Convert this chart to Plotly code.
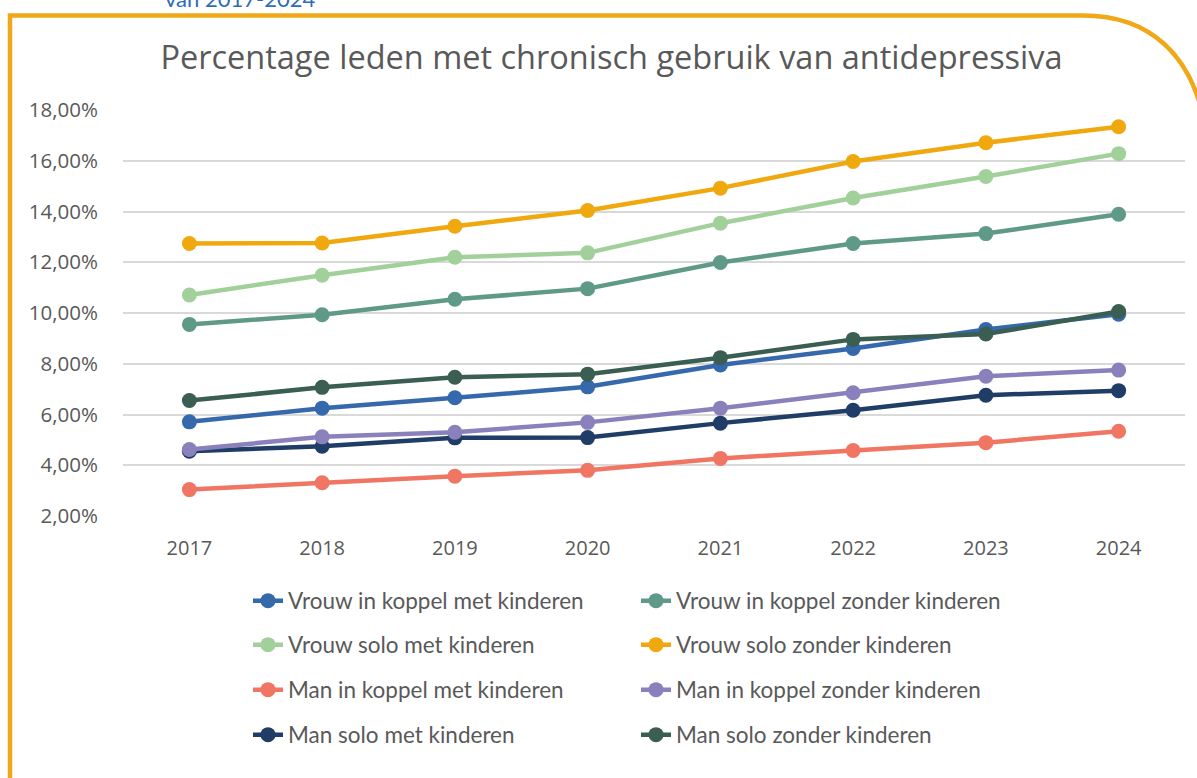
import plotly.graph_objects as go

years = ["2017", "2018", "2019", "2020", "2021", "2022", "2023", "2024"]

vrouw_koppel_met = [5.71, 6.25, 6.66, 7.09, 7.95, 8.60, 9.35, 9.95]
vrouw_koppel_zonder = [9.55, 9.93, 10.54, 10.96, 11.99, 12.74, 13.13, 13.89]
vrouw_solo_met = [10.71, 11.49, 12.20, 12.37, 13.54, 14.53, 15.38, 16.28]
vrouw_solo_zonder = [12.74, 12.76, 13.42, 14.04, 14.92, 15.97, 16.71, 17.34]
man_koppel_met = [3.04, 3.31, 3.57, 3.80, 4.27, 4.58, 4.89, 5.34]
man_koppel_zonder = [4.62, 5.12, 5.30, 5.69, 6.25, 6.86, 7.51, 7.75]
man_solo_met = [4.55, 4.75, 5.08, 5.09, 5.66, 6.17, 6.76, 6.94]
man_solo_zonder = [6.55, 7.07, 7.47, 7.59, 8.24, 8.96, 9.17, 10.06]

names = [
    "Vrouw in koppel met kinderen", "Vrouw in koppel zonder kinderen",
    "Vrouw solo met kinderen", "Vrouw solo zonder kinderen",
    "Man in koppel met kinderen", "Man in koppel zonder kinderen",
    "Man solo met kinderen", "Man solo zonder kinderen",
]
series = [vrouw_koppel_met, vrouw_koppel_zonder, vrouw_solo_met, vrouw_solo_zonder,
          man_koppel_met, man_koppel_zonder, man_solo_met, man_solo_zonder]
colors = ["#3569AC", "#5F9A89", "#A2D09B", "#F0A80F",
          "#F07562", "#8A80BC", "#1F3D66", "#3A5E51"]

W, H = 1197, 778
L, R, T, B = 123, 1185, 110, 516  # plot area in px
pw, ph = R - L, B - T

def px(x):
    return (x - L) / pw

def py(y):
    return (B - y) / ph

FONT = "Open Sans"
LFONT = "Lato"
GREY = "#595959"

fig = go.Figure()
legend_names = ["legend", "legend2", "legend3", "legend4"]
# draw order: so that later series lie on top like the reference
order = [4, 6, 5, 0, 7, 1, 2, 3]
for i in order:
    fig.add_trace(go.Scatter(
        x=years, y=[v / 100 for v in series[i]], name=names[i],
        mode="lines+markers",
        line=dict(color=colors[i], width=4.5),
        marker=dict(color=colors[i], size=15),
        legend=legend_names[i // 2],
        legendrank=i,
        hovertemplate="%{y:.2%}<extra>" + names[i] + "</extra>",
    ))

row_y = [601, 645, 690, 735]
legend_common = dict(
    orientation="h", xanchor="left", yanchor="middle",
    entrywidth=343, entrywidthmode="pixels",
    font=dict(family=LFONT, size=22.5, color=GREY),
    bgcolor="rgba(0,0,0,0)", traceorder="normal",
)
layout_legends = {}
for k, ln in enumerate(legend_names):
    layout_legends[ln] = dict(legend_common, x=px(248), y=py(row_y[k]))

# orange frame (left edge, top edge and rounded top-right corner)
frame_path = (
    f"M {px(10)} {py(800)} L {px(10)} {py(15.5)} L {px(1083)} {py(15.5)} "
    f"C {px(1150)} {py(15.5)} {px(1192)} {py(55)} {px(1205)} {py(125)}"
)

fig.update_layout(
    width=W, height=H,
    margin=dict(l=L, r=W - R, t=T, b=H - B, pad=0),
    paper_bgcolor="white", plot_bgcolor="white",
    showlegend=True,
    separators=",.",
    title=dict(
        text="Percentage leden met chronisch gebruik van antidepressiva",
        x=611.5 / W, xanchor="center", y=1 - 58 / H, yanchor="middle",
        font=dict(family=FONT, size=32.5, color=GREY),
    ),
    xaxis=dict(
        type="category", range=[-0.5, 7.5],
        showgrid=False, showline=False, zeroline=False,
        ticks="", ticklabelstandoff=18,
        tickfont=dict(family=FONT, size=20, color=GREY),
    ),
    yaxis=dict(
        range=[0.02, 0.18], dtick=0.02, tick0=0.02,
        tickformat=".2%",
        showgrid=True, gridcolor="#D9D9D9", gridwidth=1.5,
        zeroline=False, showline=False, ticks="",
        ticklabelstandoff=24,
        tickfont=dict(family=FONT, size=20.5, color=GREY),
    ),
    shapes=[dict(
        type="path", path=frame_path, xref="paper", yref="paper",
        line=dict(color="#F0A818", width=4.5), layer="above",
    )],
    annotations=[dict(
        text="van 2017-2024", xref="paper", yref="paper",
        x=px(163), y=py(-1), xanchor="left", yanchor="middle",
        showarrow=False, font=dict(family=LFONT, size=22, color="#2E6CB5"),
    )],
    **layout_legends,
)

fig.write_html("out.html", config={"displayModeBar": False},
               post_script="document.body.style.margin='0';")
